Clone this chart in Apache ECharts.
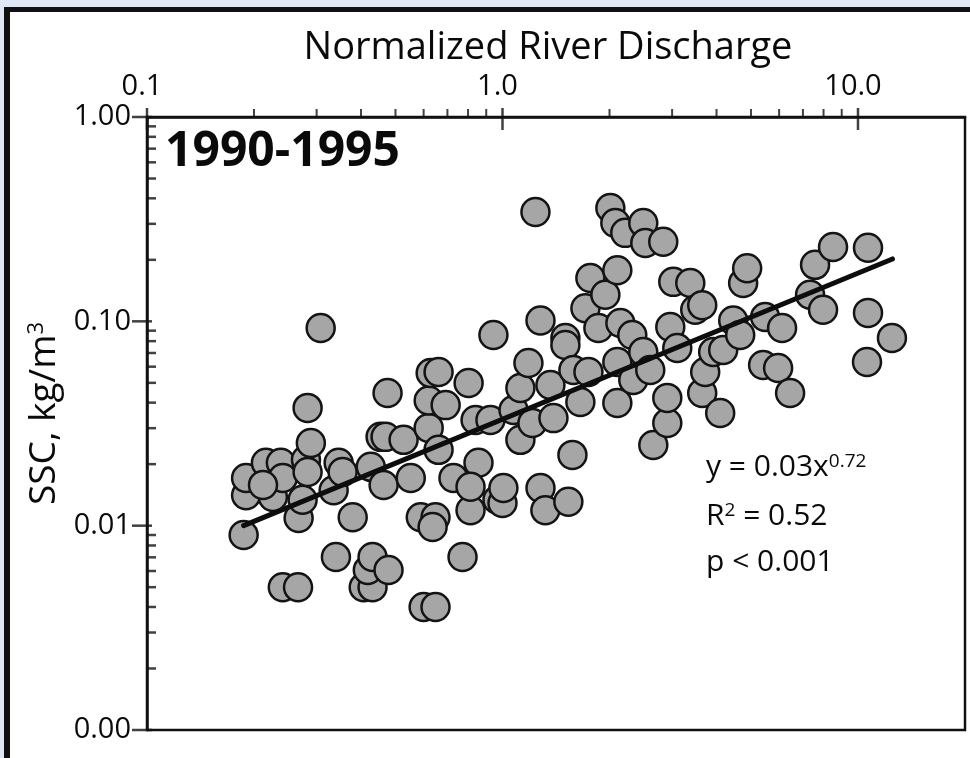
<!DOCTYPE html>
<html><head><meta charset="utf-8">
<script src="https://cdn.jsdelivr.net/npm/echarts@6/dist/echarts.min.js"></script>
<style>html,body{margin:0;padding:0;background:#fff;}#c{width:970px;height:758px;}</style>
</head><body><div id="c"></div>
<script>
// Normalized river discharge (x) and SSC kg/m3 (y)
const discharge = [0.187,0.190,0.190,0.216,0.238,0.226,0.241,0.212,0.241,0.266,0.267,0.274,0.280,0.283,0.289,0.283,0.308,0.335,0.346,0.355,0.379,0.340,0.426,0.463,0.454,0.469,0.475,0.407,0.431,0.418,0.431,0.478,0.527,0.552,0.620,0.620,0.628,0.661,0.661,0.589,0.648,0.636,0.600,0.648,0.692,0.728,0.803,0.813,0.840,0.856,0.813,0.772,0.943,0.968,0.925,1.000,1.006,1.074,1.123,1.123,1.183,1.214,1.238,1.279,1.279,1.320,1.364,1.391,1.503,1.503,1.532,1.573,1.583,1.656,1.711,1.745,1.767,1.861,1.947,2.011,2.077,2.104,2.104,2.104,2.146,2.215,2.318,2.333,2.489,2.522,2.833,2.489,2.604,2.656,2.908,2.908,2.965,3.023,3.102,3.375,3.485,3.646,3.646,3.717,3.914,4.096,4.177,4.457,4.663,4.753,4.878,5.409,5.480,5.961,6.116,6.442,7.332,7.573,7.975,8.508,10.67,10.67,10.60,12.46];
const ssc = [0.0090,0.0141,0.0171,0.0203,0.0203,0.0138,0.0171,0.0158,0.0050,0.0050,0.0109,0.0134,0.0210,0.0183,0.0254,0.0377,0.0928,0.0149,0.0203,0.0183,0.0110,0.00703,0.0194,0.0158,0.0272,0.0272,0.0446,0.0050,0.0050,0.00607,0.00703,0.00607,0.0263,0.0171,0.0301,0.0410,0.0559,0.0565,0.0235,0.0110,0.0110,0.00985,0.0040,0.0040,0.0389,0.0171,0.0499,0.0119,0.0329,0.0203,0.0155,0.00703,0.0857,0.0134,0.0329,0.0129,0.0153,0.0368,0.0263,0.0472,0.0625,0.0318,0.343,0.101,0.0153,0.0119,0.0488,0.0336,0.0829,0.0766,0.0131,0.0222,0.0578,0.0403,0.116,0.0565,0.163,0.0928,0.135,0.359,0.303,0.178,0.0632,0.0398,0.0981,0.271,0.0857,0.0516,0.303,0.242,0.245,0.0708,0.0578,0.0248,0.0318,0.0422,0.0938,0.156,0.0740,0.154,0.114,0.120,0.0446,0.0565,0.0708,0.0356,0.0724,0.101,0.0857,0.154,0.182,0.0611,0.105,0.0591,0.0928,0.0446,0.135,0.189,0.114,0.231,0.229,0.110,0.0632,0.0829];
// Fitted power-law line end points (as drawn)
const trendX = [0.187, 12.5];
const trendY = [0.0100, 0.202];
// Axis ticks and labels
const xRange = [0.1, 20];
const yRange = [0.001, 1];
const xMajorTicks = [0.1, 1, 10];
const xTickLabels = ['0.1', '1.0', '10.0'];
const xMinorTicks = [0.2,0.3,0.4,0.5,0.6,0.7,0.8,0.9,2,3,4,5,6,7,8,9];
const yMajorTicks = [0.001, 0.01, 0.1, 1];
const yTickLabels = ['0.00', '0.01', '0.10', '1.00'];
const yMinorTicks = [0.002,0.003,0.004,0.005,0.006,0.007,0.008,0.009,0.02,0.03,0.04,0.05,0.06,0.07,0.08,0.09,0.2,0.3,0.4,0.5,0.6,0.7,0.8,0.9];

const FONT = '"Open Sans", "Noto Sans", sans-serif';
const INK = '#0a0a0a';
function labelFor(ticks, labels) {
  return function (v) {
    for (let i = 0; i < ticks.length; i++) {
      if (Math.abs(Math.log10(v) - Math.log10(ticks[i])) < 1e-6) return labels[i];
    }
    return '';
  };
}
const chart = echarts.init(document.getElementById('c'), null, {renderer: 'canvas'});
const pts = discharge.map((x, i) => [x, ssc[i]]);
const tickStyle = {color: '#111'};
const supStyle = {fontFamily: FONT, fontSize: 19, fill: INK, verticalAlign: 'top', padding: [0, 0, 10, 0]};
chart.setOption({
  animation: false,
  backgroundColor: '#ffffff',
  grid: {left: 147, top: 117, right: 5, bottom: 28, show: true, borderColor: '#111', borderWidth: 2.5, backgroundColor: 'transparent'},
  xAxis: {
    type: 'log', logBase: 10, position: 'top', min: xRange[0], max: xRange[1],
    name: 'Normalized River Discharge', nameLocation: 'middle', nameGap: 50,
    nameTextStyle: {fontFamily: FONT, fontSize: 38, color: INK, padding: [0, 16, 0, 0]},
    axisLine: {show: true, lineStyle: {color: '#111', width: 2.5}},
    axisTick: {show: false}, splitLine: {show: false},
    axisLabel: {margin: 16, fontFamily: FONT, fontSize: 29, color: INK, padding: [0, 10, 0, 0], formatter: labelFor(xMajorTicks, xTickLabels)}
  },
  yAxis: {
    type: 'log', logBase: 10, min: yRange[0], max: yRange[1],
    name: 'SSC, kg/m{sup|3}', nameLocation: 'middle', nameRotate: 90, nameGap: 82,
    nameTextStyle: {fontFamily: FONT, fontSize: 37, color: INK, padding: [0, 0, 0, 20],
      rich: {sup: {fontFamily: FONT, fontSize: 22, color: INK, verticalAlign: 'top', padding: [0, 0, 14, 0]}}},
    axisLine: {show: true, lineStyle: {color: '#111', width: 2.5}},
    axisTick: {show: false}, splitLine: {show: false},
    axisLabel: {margin: 16, fontFamily: FONT, fontSize: 29, color: INK, formatter: labelFor(yMajorTicks, yTickLabels)}
  },
  graphic: [
    {type: 'rect', z: 100, silent: true, shape: {x: 0, y: 0, width: 970, height: 7}, style: {fill: '#dfe8f4'}},
    {type: 'rect', z: 100, silent: true, shape: {x: 0, y: 0, width: 4, height: 758}, style: {fill: '#dfe8f4'}},
    {type: 'rect', z: 100, silent: true, shape: {x: 4, y: 7, width: 966, height: 5}, style: {fill: '#111'}},
    {type: 'rect', z: 100, silent: true, shape: {x: 4, y: 7, width: 6, height: 751}, style: {fill: '#111'}},
    {type: 'text', z: 100, silent: true, x: 165, y: 152, style: {text: '1990-1995', fontFamily: FONT, fontSize: 48, fontWeight: 'bold', fill: INK, verticalAlign: 'middle', align: 'left'}},
    {type: 'text', z: 100, silent: true, x: 706, y: 467, style: {text: 'y = 0.03x{sup|0.72}', fontFamily: FONT, fontSize: 30, fill: INK, verticalAlign: 'middle', align: 'left', rich: {sup: supStyle}}},
    {type: 'text', z: 100, silent: true, x: 706, y: 516, style: {text: 'R{sup|2} = 0.52', fontFamily: FONT, fontSize: 30, fill: INK, verticalAlign: 'middle', align: 'left', rich: {sup: supStyle}}},
    {type: 'text', z: 100, silent: true, x: 706, y: 562, style: {text: 'p < 0.001', fontFamily: FONT, fontSize: 30, fill: INK, verticalAlign: 'middle', align: 'left'}}
  ],
  series: [
    {type: 'scatter', name: 'SSC', data: pts, symbol: 'circle', symbolSize: 28, z: 3,
      itemStyle: {color: '#a6a6a6', borderColor: '#141414', borderWidth: 2.5, opacity: 1}},
    {type: 'line', name: 'fit', data: trendX.map((x, i) => [x, trendY[i]]), showSymbol: false, symbol: 'none', z: 4,
      lineStyle: {color: '#0d0d0d', width: 5, cap: 'round'}},
    {type: 'scatter', clip: false, silent: true, z: 6, data: xMajorTicks.map(v => [v, yRange[1]]), symbol: 'rect', symbolSize: [2.5, 22], symbolOffset: [0, 2], itemStyle: tickStyle},
    {type: 'scatter', clip: false, silent: true, z: 6, data: xMinorTicks.map(v => [v, yRange[1]]), symbol: 'rect', symbolSize: [2, 8], symbolOffset: [0, -4], itemStyle: tickStyle},
    {type: 'scatter', clip: false, silent: true, z: 6, data: yMajorTicks.map(v => [xRange[0], v]), symbol: 'rect', symbolSize: [20, 2.5], symbolOffset: [-5, 0], itemStyle: tickStyle},
    {type: 'scatter', clip: false, silent: true, z: 6, data: yMinorTicks.map(v => [xRange[0], v]), symbol: 'rect', symbolSize: [9, 2.5], symbolOffset: [4.5, 0], itemStyle: tickStyle}
  ]
});
</script></body></html>
